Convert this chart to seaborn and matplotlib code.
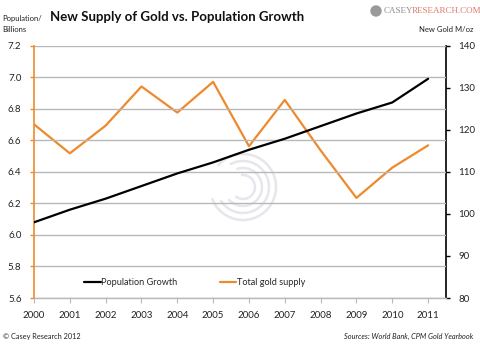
import matplotlib
matplotlib.use("Agg")
import matplotlib.pyplot as plt
import seaborn as sns
import pandas as pd
from matplotlib.lines import Line2D
from matplotlib.patches import Arc, Circle

years = [2000, 2001, 2002, 2003, 2004, 2005, 2006, 2007, 2008, 2009, 2010, 2011]
population = [6.08, 6.16, 6.23, 6.31, 6.39, 6.46, 6.54, 6.61, 6.69, 6.77, 6.84, 6.99]
gold_supply = [121.3, 114.4, 121.0, 130.3, 124.1, 131.4, 116.1, 127.1, 115.1, 103.8, 111.0, 116.3]
left_ticks = [5.6, 5.8, 6.0, 6.2, 6.4, 6.6, 6.8, 7.0, 7.2]
right_ticks = [80, 90, 100, 110, 120, 130, 140]

sns.set_theme(style="white")
plt.rcParams['font.family'] = ['Lato', 'DejaVu Sans']

ORANGE = "#EE8A2C"
GRID = "#B8B8B8"

df = pd.DataFrame({"year": years, "pop": population, "gold": gold_supply})

fig = plt.figure(figsize=(4.81, 3.46), dpi=100)
ax = fig.add_axes([34/481, 1-298/346, (446-34)/481, (298-45.7)/346])
ax2 = ax.twinx()

sns.lineplot(data=df, x="year", y="pop", ax=ax, color="black", linewidth=1.6, zorder=3)
sns.lineplot(data=df, x="year", y="gold", ax=ax2, color=ORANGE, linewidth=1.6, zorder=3)

ax.set_xlim(2000, 2011.5)
ax.set_ylim(5.6, 7.2)
ax2.set_ylim(80, 140)
ax.set_xticks(years)
ax.set_xticklabels([str(y) for y in years])
ax.set_yticks(left_ticks)
ax.set_yticklabels([f"{v:.1f}" for v in left_ticks])
ax2.set_yticks(right_ticks)
ax2.set_yticklabels([str(v) for v in right_ticks])
ax.set_xlabel("")
ax.set_ylabel("")
ax2.set_ylabel("")

for y in left_ticks:
    ax.axhline(y, color=GRID, linewidth=1.0, zorder=0)

for s in ["top", "right"]:
    ax.spines[s].set_visible(False)
ax.spines["left"].set_color(ORANGE)
ax.spines["left"].set_linewidth(1.2)
ax.spines["bottom"].set_color(GRID)
ax.spines["bottom"].set_linewidth(1.0)
for s in ["top", "left", "bottom"]:
    ax2.spines[s].set_visible(False)
ax2.spines["right"].set_color("black")
ax2.spines["right"].set_linewidth(1.2)

ax.tick_params(axis="y", which="both", left=True, length=3, width=1.0, color=ORANGE,
               labelsize=7, pad=6, labelcolor="#222222")
ax.tick_params(axis="x", bottom=True, length=3.5, width=0.8, color=GRID,
               labelsize=7, pad=6, labelcolor="#222222")
ax2.tick_params(axis="y", right=True, length=3, width=1.0, color="black",
                labelsize=7, pad=6, labelcolor="#222222")

ax.set_zorder(ax2.get_zorder() + 1)
ax.patch.set_visible(False)

handles = [Line2D([0], [0], color="black", linewidth=1.6),
           Line2D([0], [0], color=ORANGE, linewidth=1.6)]
leg = ax.legend(handles, ["Population Growth", "Total gold supply"], ncol=2,
                loc="center", bbox_to_anchor=(0.39, 0.06), frameon=False,
                fontsize=6.6, handlelength=1.8, handletextpad=0.05, columnspacing=4.6)

# watermark target logo
cx, cy = 2.43, (346 - 187) / 100
for r, a1, a2 in [(0.33, 200, 500), (0.26, 210, 480), (0.19, 220, 470), (0.12, 230, 460)]:
    fig.add_artist(Arc((cx, cy), 2*r, 2*r, theta1=a1, theta2=a2,
                       transform=fig.dpi_scale_trans, color="#E6E6EC",
                       linewidth=1.8, zorder=0))

fig.text(50/481, 1-17/346, "New Supply of Gold vs. Population Growth", fontsize=9.5,
         fontweight="bold", ha="left", va="center", color="#111111")
fig.text(2/481, 1-18/346, "Population/", fontsize=5.5, ha="left", va="center", color="#222222")
fig.text(2/481, 1-29/346, "Billions", fontsize=5.5, ha="left", va="center", color="#222222")
fig.text(474/481, 1-29/346, "New Gold M/oz", fontsize=5.5, ha="right", va="center", color="#222222")
fig.text(3/481, 1-336/346, "© Casey Research 2012", fontsize=5.3, ha="left", va="center", color="#222222")
fig.text(473/481, 1-336/346, "Sources: World Bank, CPM Gold Yearbook", fontsize=5.3,
         ha="right", va="center", color="#222222", style="italic")

# logo
fig.add_artist(Circle((376/100, (346-11)/100), 0.05, transform=fig.dpi_scale_trans,
                      color="#9A9A9A", zorder=5))
fig.text(384/481, 1-11/346, "CASEY", fontsize=6.5, ha="left", va="center",
         color="#8C8C8C", family=["Liberation Serif", "DejaVu Serif"])
fig.text(412/481, 1-11/346, "RESEARCH.COM", fontsize=6.5, ha="left", va="center",
         color="#E07A6A", family=["Liberation Serif", "DejaVu Serif"])

fig.savefig("out.png", dpi=100)
